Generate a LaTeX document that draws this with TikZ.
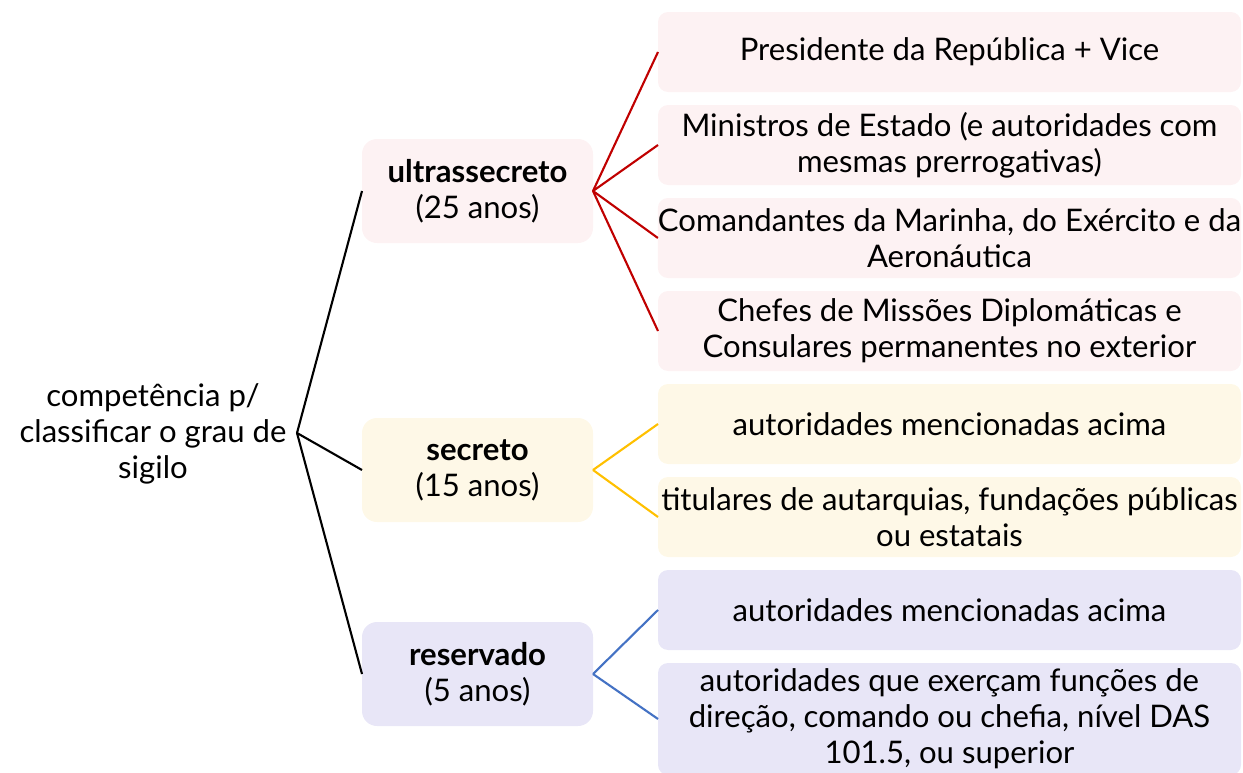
\documentclass[tikz,border=0pt]{standalone}
\usepackage{fontspec}
\setmainfont{Lato}
\usepackage{xcolor}
\usetikzlibrary{chains,positioning}

\definecolor{ultrafill}{HTML}{FDF2F3}
\definecolor{ultraline}{HTML}{C00000}
\definecolor{secfill}{HTML}{FEF8E7}
\definecolor{secline}{HTML}{FFC000}
\definecolor{resfill}{HTML}{E8E6F7}
\definecolor{resline}{HTML}{4472C4}

\begin{document}
\begin{tikzpicture}[x=0.1mm,y=-0.1mm]
\useasboundingbox (0,0) rectangle (1243,773);

\edef\sizetext{\noexpand\fontsize{8.85pt}{10.2pt}\noexpand\selectfont}
\tikzstyle{every node}=[font=\sizetext]
\tikzstyle{grade}=[rounded corners=1.5mm,minimum width=23.1mm,minimum height=10.4mm,align=center,inner sep=0pt,outer sep=0pt]
\tikzstyle{holder}=[rounded corners=1mm,minimum width=58.3mm,minimum height=8mm,align=center,inner sep=0pt,outer sep=0pt]
\tikzstyle{branch}=[line width=0.6pt]

%% Root text
\node[align=center] (comp) at (153,434) {competência p/\\classificar o grau de\\sigilo};
\coordinate (root) at (297,433);

%% Grades
\node[grade,fill=ultrafill] (ultra) at (477.5,191) {\textbf{ultrassecreto}\\(25 anos)};
\node[grade,fill=secfill] (sec) at (477.5,470) {\textbf{secreto}\\(15 anos)};
\node[grade,fill=resfill] (res) at (477.5,674) {\textbf{reservado}\\(5 anos)};

%% Authorities
\begin{scope}[start chain=1 going below,node distance=1.3mm]
    \node [on chain=1,holder,fill=ultrafill] (pres) at (949.5,52) {Presidente da República + Vice};
    \node [on chain=1,holder,fill=ultrafill] (min) {Ministros de Estado (e autoridades com\\mesmas prerrogativas)};
    \node [on chain=1,holder,fill=ultrafill] (cmd) {Comandantes da Marinha, do Exército e da\\Aeronáutica};
    \node [on chain=1,holder,fill=ultrafill] (chef) {Chefes de Missões Diplomáticas e\\Consulares permanentes no exterior};
    \node [on chain=1,holder,fill=secfill] (secA) {autoridades mencionadas acima};
    \node [on chain=1,holder,fill=secfill] (tit) {titulares de autarquias, fundações públicas\\ou estatais};
    \node [on chain=1,holder,fill=resfill] (resA) {autoridades mencionadas acima};
    \node [on chain=1,holder,fill=resfill,minimum height=11.2mm] (das) {autoridades que exerçam funções de\\direção, comando ou chefia, nível DAS\\101.5, ou superior};
\end{scope}

%% Connectors
\draw[branch] (root) -- (ultra.west);
\draw[branch] (root) -- (sec.west);
\draw[branch] (root) -- (res.west);

\foreach \n in {pres,min,cmd,chef}
    \draw[branch,ultraline] (ultra.east) -- (\n.west);
\foreach \n in {secA,tit}
    \draw[branch,secline] (sec.east) -- (\n.west);
\foreach \n in {resA,das}
    \draw[branch,resline] (res.east) -- (\n.west);

\end{tikzpicture}
\end{document}
